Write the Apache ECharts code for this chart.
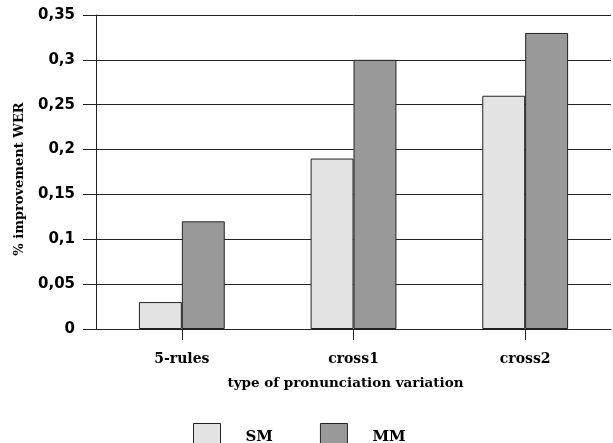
<!DOCTYPE html>
<html>
<head>
<meta charset="utf-8">
<script src="https://cdn.jsdelivr.net/npm/echarts@6/dist/echarts.min.js"></script>
<style>html,body{margin:0;padding:0;background:#fff;}#c{width:613px;height:443px;}</style>
</head>
<body>
<div id="c"></div>
<script>
var categories = ['5-rules', 'cross1', 'cross2'];
var smValues = [0.03, 0.19, 0.26];
var mmValues = [0.12, 0.30, 0.33];
var yTicks = [0, 0.05, 0.1, 0.15, 0.2, 0.25, 0.3, 0.35];

var chart = echarts.init(document.getElementById('c'), null, {renderer: 'canvas'});
var serif = 'DejaVu Serif';
var sans = 'DejaVu Sans';
chart.setOption({
  animation: false,
  backgroundColor: '#fff',
  grid: {left: 96, right: 2, top: 15, bottom: 114},
  legend: {
    left: 193, top: 423, padding: 0,
    itemWidth: 27, itemHeight: 28, itemGap: 47,
    icon: 'rect',
    textStyle: {fontFamily: serif, fontWeight: 'bold', fontSize: 15, color: '#000', padding: [0, 0, 0, 20]},
    data: [
      {name: 'SM', itemStyle: {color: '#e3e3e3', borderColor: '#222', borderWidth: 1}},
      {name: 'MM', itemStyle: {color: '#999999', borderColor: '#222', borderWidth: 1}}
    ]
  },
  xAxis: {
    type: 'category',
    data: categories,
    name: 'type of pronunciation variation',
    nameLocation: 'middle',
    nameGap: 47,
    nameTextStyle: {fontFamily: serif, fontWeight: 'bold', fontSize: 13.5, color: '#000', padding: [0, 16, 0, 0]},
    axisLine: {show: true, lineStyle: {color: '#222', width: 1}},
    axisTick: {show: true, alignWithLabel: true, length: 11, lineStyle: {color: '#222'}},
    axisLabel: {fontFamily: serif, fontWeight: 'bold', fontSize: 14, color: '#000', margin: 23}
  },
  yAxis: {
    type: 'value',
    min: 0, max: 0.35, interval: 0.05,
    name: '% improvement WER',
    nameLocation: 'middle',
    nameGap: 70,
    nameRotate: 90,
    nameTextStyle: {fontFamily: serif, fontWeight: 'bold', fontSize: 13, color: '#000', padding: [0, 14, 0, 0]},
    axisLine: {show: true, lineStyle: {color: '#222', width: 1}},
    axisTick: {show: true, inside: false, length: 13, lineStyle: {color: '#222', width: 1}},
    splitLine: {show: true, lineStyle: {color: '#222', width: 1}},
    axisLabel: {
      fontFamily: sans, fontWeight: 'bold', fontSize: 15, color: '#000', margin: 21,
      formatter: function (v) {
        var idx = yTicks.findIndex(function (t) { return Math.abs(t - v) < 1e-9; });
        var t = idx >= 0 ? yTicks[idx] : v;
        return String(+t.toFixed(2)).replace('.', ',');
      }
    }
  },
  series: [
    {name: 'SM', type: 'bar', data: smValues, barGap: '0%', barCategoryGap: '50%',
     itemStyle: {color: '#e3e3e3', borderColor: '#222', borderWidth: 1}},
    {name: 'MM', type: 'bar', data: mmValues, barGap: '0%', barCategoryGap: '50%',
     itemStyle: {color: '#999999', borderColor: '#222', borderWidth: 1}}
  ]
});
</script>
</body>
</html>
